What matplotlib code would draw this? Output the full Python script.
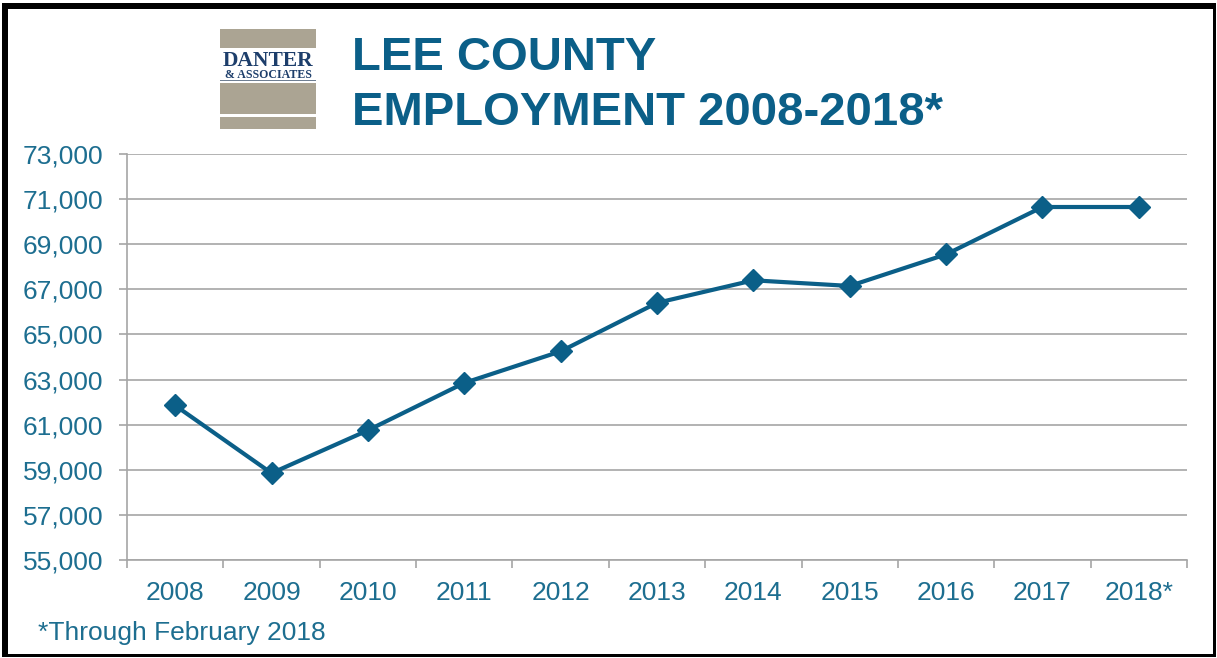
import numpy as np
import matplotlib
matplotlib.use("Agg")
import matplotlib.pyplot as plt
from matplotlib.patches import Rectangle

years = ["2008", "2009", "2010", "2011", "2012", "2013", "2014", "2015", "2016", "2017", "2018*"]
employment = [61850, 58850, 60750, 62850, 64250, 66400, 67400, 67150, 68550, 70650, 70650]
y_ticks = np.arange(55000, 73001, 2000)

blue = "#0b5f88"
label_blue = "#1d6e90"
grid_gray = "#a6a6a6"

plt.rcParams["font.family"] = ["Liberation Sans", "DejaVu Sans"]

W, H = 1217, 658
fig = plt.figure(figsize=(W / 100, H / 100), dpi=100)
ax = fig.add_axes([127 / W, 1 - 560 / H, (1187 - 127) / W, (560 - 154) / H])

x = np.arange(len(years))
ax.plot(x, employment, color=blue, lw=3, marker="D", ms=11, mec=blue, mew=1, zorder=3)

ax.set_xlim(-0.5, len(years) - 0.5)
ax.set_ylim(55000, 73000)
ax.set_yticks(y_ticks)
ax.set_yticklabels([f"{v:,}" for v in y_ticks])
ax.set_xticks(x)
ax.set_xticklabels(years)
ax.set_xticks(np.arange(-0.5, len(years)), minor=True)

ax.grid(axis="y", color=grid_gray, lw=1.2)
ax.set_axisbelow(True)
for s in ["top", "right"]:
    ax.spines[s].set_visible(False)
for s in ["left", "bottom"]:
    ax.spines[s].set_color(grid_gray)
    ax.spines[s].set_linewidth(1.2)

ax.tick_params(axis="y", length=6, width=1.2, color=grid_gray, pad=11,
               labelsize=19, labelcolor=label_blue)
ax.tick_params(axis="x", which="major", length=0, pad=15,
               labelsize=19, labelcolor=label_blue)
ax.tick_params(axis="x", which="minor", length=6, width=1.2, color=grid_gray)

# title
fig.text(352 / W, 1 - 70 / H, "LEE COUNTY", fontsize=34, fontweight="bold",
         color=blue, va="baseline", ha="left")
fig.text(352 / W, 1 - 125 / H, "EMPLOYMENT 2008-2018*", fontsize=34, fontweight="bold",
         color=blue, va="baseline", ha="left")

# footnote
fig.text(38 / W, 1 - 640 / H, "*Through February 2018", fontsize=19,
         color=label_blue, va="baseline", ha="left")

# logo
def px_rect(x0, y0, x1, y1, color):
    fig.add_artist(Rectangle((x0 / W, 1 - y1 / H), (x1 - x0) / W, (y1 - y0) / H,
                             transform=fig.transFigure, color=color, lw=0))

taupe = "#aba493"
navy = "#1d3e6b"
px_rect(220, 29, 316, 48, taupe)
px_rect(220, 83, 316, 114, taupe)
px_rect(220, 117, 316, 129, taupe)
px_rect(220, 80, 316, 81, "#6f7f93")
fig.text(268 / W, 1 - 66 / H, "DANTER", fontsize=15.5, fontweight="bold",
         family=["Liberation Serif"], color=navy, ha="center", va="baseline")
fig.text(268 / W, 1 - 78.5 / H, "& ASSOCIATES", fontsize=8.6, fontweight="bold",
         family=["Liberation Serif"], color=navy, ha="center", va="baseline")

# frame
px_rect(2, 3, 8, 657, "black")
px_rect(2, 3, 1216, 9, "black")
px_rect(1213, 3, 1216, 657, "black")
px_rect(2, 654, 1216, 657, "black")

fig.savefig("out.png", dpi=100, facecolor="white")
